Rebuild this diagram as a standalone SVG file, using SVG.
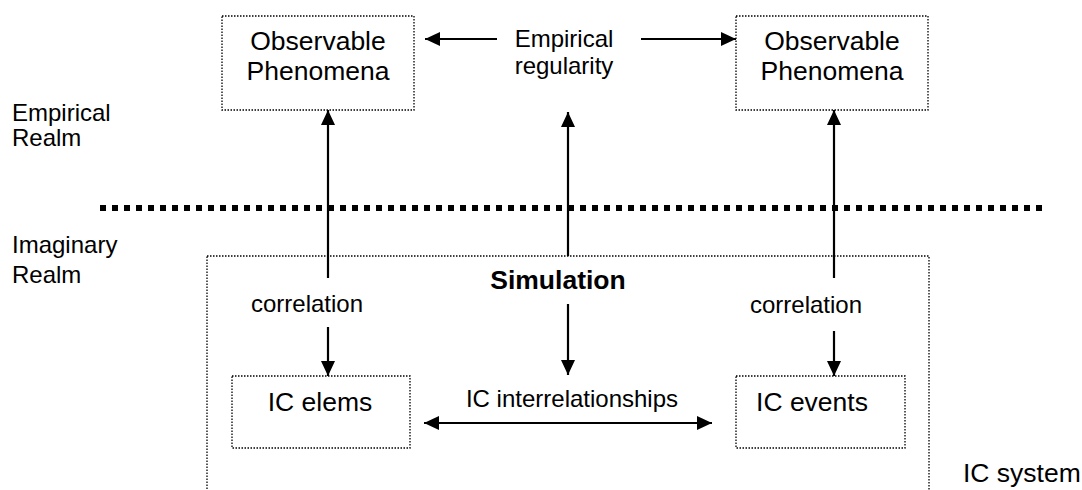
<svg xmlns="http://www.w3.org/2000/svg" width="1082" height="490" viewBox="0 0 1082 490">
<style>
text{font-family:"Liberation Sans",Arial,sans-serif;font-size:24px;fill:#000}
.c{text-anchor:middle}
.big{font-size:26.5px}
.box{fill:none;stroke:#000;stroke-width:1.3;stroke-dasharray:1.5 1.5}
.arr{stroke:#000;stroke-width:2.2;fill:none}
.sep{stroke:#000;stroke-width:6;stroke-dasharray:6 6}
</style>
<defs>
<marker id="ah" markerUnits="userSpaceOnUse" markerWidth="16" markerHeight="16" viewBox="0 0 16 16" refX="15" refY="8" orient="auto-start-reverse">
<path d="M0,1 L15,8 L0,15 Z" fill="#000"/>
</marker>
</defs>
<g id="realm-labels">
<text x="12" y="121">Empirical</text>
<text x="12" y="146">Realm</text>
<text x="12" y="253">Imaginary</text>
<text x="12" y="283">Realm</text>
</g>
<line id="separator" class="sep" x1="100" y1="208" x2="1046" y2="208"/>
<g id="ic-system">
<rect class="box" x="207" y="256" width="722" height="260"/>
<text class="big" x="963" y="482">IC system</text>
</g>
<g id="obs-left">
<rect class="box" x="222" y="16" width="192" height="94"/>
<text class="c big" x="318" y="50">Observable</text>
<text class="c big" x="318" y="80">Phenomena</text>
</g>
<g id="obs-right">
<rect class="box" x="736" y="16" width="192" height="94"/>
<text class="c big" x="832" y="50">Observable</text>
<text class="c big" x="832" y="80">Phenomena</text>
</g>
<g id="emp-reg">
<text class="c" x="564" y="47">Empirical</text>
<text class="c" x="564" y="74">regularity</text>
</g>
<g id="simulation">
<text class="c big" x="558" y="289" font-weight="bold">Simulation</text>
</g>
<g id="ic-elems">
<rect class="box" x="232" y="376" width="178" height="72"/>
<text class="c big" x="320" y="411">IC elems</text>
</g>
<g id="ic-events">
<rect class="box" x="736" y="376" width="169" height="72"/>
<text class="c big" x="812" y="411">IC events</text>
</g>
<g id="labels">
<text class="c" x="307" y="312">correlation</text>
<text class="c" x="806" y="313">correlation</text>
<text class="c" x="572" y="407">IC interrelationships</text>
</g>
<g id="connectors">
<line class="arr" x1="328" y1="278" x2="328" y2="110" marker-end="url(#ah)"/>
<line class="arr" x1="328" y1="327" x2="328" y2="376" marker-end="url(#ah)"/>
<line class="arr" x1="834" y1="278" x2="834" y2="110" marker-end="url(#ah)"/>
<line class="arr" x1="834" y1="331" x2="834" y2="376" marker-end="url(#ah)"/>
<line class="arr" x1="568" y1="256" x2="568" y2="112" marker-end="url(#ah)"/>
<line class="arr" x1="568" y1="304" x2="568" y2="375" marker-end="url(#ah)"/>
<line class="arr" x1="497" y1="39" x2="425" y2="39" marker-end="url(#ah)"/>
<line class="arr" x1="641" y1="39" x2="736" y2="39" marker-end="url(#ah)"/>
<line class="arr" x1="424" y1="423" x2="712" y2="423" marker-start="url(#ah)" marker-end="url(#ah)"/>
</g>
</svg>
